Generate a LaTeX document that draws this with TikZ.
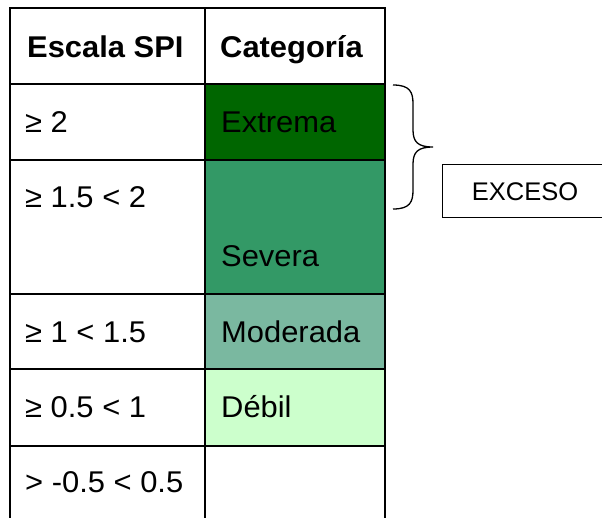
\documentclass[tikz,border=0pt]{standalone}
\usepackage{fontspec}
\setmainfont{Liberation Sans}[FakeStretch=1.03]
\newfontfamily\plainsans{Liberation Sans}
\definecolor{cExtrema}{HTML}{006600}
\definecolor{cSevera}{HTML}{339966}
\definecolor{cModerada}{HTML}{7AB8A0}
\definecolor{cDebil}{HTML}{CCFFCC}
\begin{document}
\begin{tikzpicture}[x=1pt,y=-1pt,
  gridline/.style={line width=2pt,black},
  celltext/.style={anchor=base west,inner sep=0pt,font=\fontsize{30}{34}\selectfont},
  headtext/.style={celltext,font=\fontsize{30}{34}\selectfont\bfseries},
  bracestyle/.style={line width=1.3pt,black},
  boxstyle/.style={draw=black,line width=1.3pt,fill=white,minimum width=180pt,minimum height=53pt,anchor=north west,inner sep=0pt,text depth=0pt}]
\useasboundingbox (0,0) rectangle (602,517);
% fills
\fill[cExtrema] (205,84) rectangle (385,160);
\fill[cSevera] (205,160) rectangle (385,294);
\fill[cModerada] (205,294) rectangle (385,369);
\fill[cDebil] (205,369) rectangle (385,446);
% grid
\draw[gridline] (10,520) -- (10,8) -- (385,8) -- (385,520);
\draw[gridline] (205,8) -- (205,520);
\foreach \yy in {84,160,294,369,446} \draw[gridline] (10,\yy) -- (385,\yy);
% texts
\node[headtext] (h1) at (27,57) {Escala SPI};
\node[headtext] (h2) at (220,57) {Categoría};
\node[celltext] (r1) at (25,132) {≥ 2};
\node[celltext] (c1) at (221,132) {Extrema};
\node[celltext] (r2) at (25,207) {≥ 1.5 < 2};
\node[celltext] (c2) at (221,266) {Severa};
\node[celltext] (r3) at (25,342) {≥ 1 < 1.5};
\node[celltext] (c3) at (221,342) {Moderada};
\node[celltext] (r4) at (25,417) {≥ 0.5 < 1};
\node[celltext] (c4) at (221,417) {Débil};
\node[celltext] (r5) at (25,492) {> -0.5 < 0.5};
% brace
\coordinate (bt) at (393,85);
\coordinate (bm) at (433,147);
\coordinate (bb) at (393,209);
\draw[bracestyle] (bt) .. controls (410,85) and (413,92) .. (413,104)
  -- (413,130) .. controls (413,142) and (418,147) .. (bm)
  .. controls (418,147) and (413,152) .. (413,164)
  -- (413,190) .. controls (413,202) and (410,209) .. (bb);
% box
\node[boxstyle] (exceso) at (442,164) {};
\node[anchor=base,inner sep=0pt,font=\plainsans\fontsize{25.5}{28}\selectfont] (extxt) at (525,200) {EXCESO};
\end{tikzpicture}
\end{document}
